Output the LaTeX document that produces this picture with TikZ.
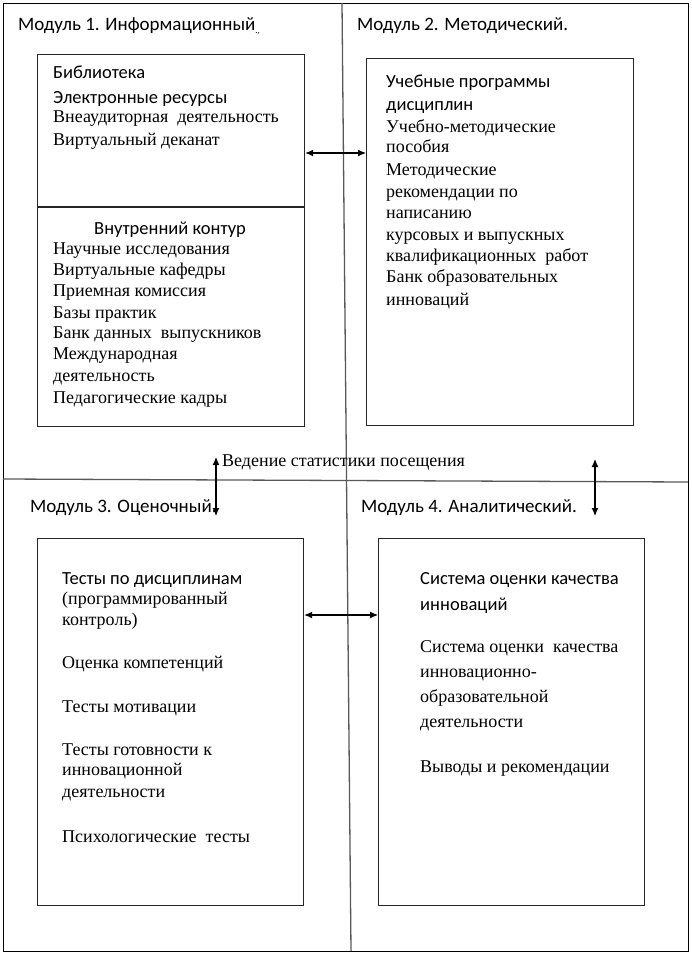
\documentclass[tikz,border=0pt]{standalone}
\usepackage{fontspec}
\setmainfont{Liberation Serif}
\newfontfamily\calib{Carlito}
\usetikzlibrary{arrows.meta}
\begin{document}
\begin{tikzpicture}[x=1pt,y=-1pt,
  frame/.style={draw=black, line width=1.3pt, inner sep=0pt, anchor=north west},
  divider/.style={draw=black!65, line width=1.3pt},
  box/.style={draw=black!85, line width=1.2pt, inner sep=0pt, anchor=north west},
  sr/.style={font=\fontsize{18}{20}\selectfont, anchor=base west, inner sep=0pt},
  sn/.style={font=\calib\fontsize{18.5}{20}\selectfont, anchor=base west, inner sep=0pt},
  hd/.style={font=\calib\fontsize{19}{20}\selectfont, anchor=base west, inner sep=0pt},
  dbl/.style={{Latex[length=8pt,width=7pt]}-{Latex[length=8pt,width=7pt]}, line width=1.1pt}]
\useasboundingbox (0,0) rectangle (691,955);
% frame and dividers
\node[frame, minimum width=685pt, minimum height=948pt] (frame) at (3,3) {};
\coordinate (vt) at (342,3);
\coordinate (vb) at (351,951);
\coordinate (hl) at (3,479);
\coordinate (hr) at (688,482);
\draw[divider] (vt) -- (vb);
\draw[divider] (hl) -- (hr);
% boxes
\node[box, minimum width=267pt, minimum height=372pt] (b1) at (37,54) {};
\node[box, minimum width=267pt, minimum height=367pt] (b2) at (366,58) {};
\node[box, minimum width=266pt, minimum height=367pt] (b3) at (37,538) {};
\node[box, minimum width=266pt, minimum height=367pt] (b4) at (378,538) {};
\coordinate (ysplit) at (0,207);
\draw[draw=black!85, line width=1.2pt] (b1.west |- ysplit) -- (b1.east |- ysplit);
% headers
\node[hd] (h1) at (18,31) {Модуль 1. Информационный\raisebox{-3pt}{\fontsize{9}{9}\selectfont .,}};
\node[hd] (h2) at (357,31) {Модуль 2. Методический.};
\node[hd] (h3) at (30,512) {Модуль 3. Оценочный.};
\node[hd] (h4) at (361,512) {Модуль 4. Аналитический.};
\node[sr] (stat) at (222,466) {Ведение статистики посещения};
% box 1
\node[sn] (t11) at (53,79) {Библиотека};
\node[sn] (t12) at (53,104) {Электронные ресурсы};
\node[sr] (t13) at (53,123) {Внеаудиторная~ деятельность};
\node[sr] (t14) at (53,145) {Виртуальный деканат};
\node[sn, anchor=base] (t15) at (170,234) {Внутренний контур};
\node[sr] (t16) at (53,254) {Научные исследования};
\node[sr] (t17) at (53,275) {Виртуальные кафедры};
\node[sr] (t18) at (53,296) {Приемная комиссия};
\node[sr] (t19) at (53,318) {Базы практик};
\node[sr] (t1a) at (53,338) {Банк данных~ выпускников};
\node[sr] (t1b) at (53,359) {Международная};
\node[sr] (t1c) at (53,381) {деятельность};
\node[sr] (t1d) at (53,403) {Педагогические кадры};
% box 2
\node[sn] (t21) at (386,88) {Учебные программы};
\node[sn] (t22) at (386,111) {дисциплин};
\node[sr] (t23) at (386,132) {Учебно-методические};
\node[sr] (t24) at (386,153) {пособия};
\node[sr] (t25) at (386,175) {Методические};
\node[sr] (t26) at (386,197) {рекомендации по};
\node[sr] (t27) at (386,218) {написанию};
\node[sr] (t28) at (386,240) {курсовых и выпускных};
\node[sr] (t29) at (386,261) {квалификационных~ работ};
\node[sr] (t2a) at (386,282) {Банк образовательных};
\node[sr] (t2b) at (386,305) {инноваций};
% box 3
\node[sn] (t31) at (62,584) {Тесты по дисциплинам};
\node[sr] (t32) at (62,604) {(программированный};
\node[sr] (t33) at (62,625) {контроль)};
\node[sr] (t34) at (62,668) {Оценка компетенций};
\node[sr] (t35) at (62,712) {Тесты мотивации};
\node[sr] (t36) at (62,755) {Тесты готовности к};
\node[sr] (t37) at (62,775) {инновационной};
\node[sr] (t38) at (62,797) {деятельности};
\node[sr] (t39) at (62,842) {Психологические~ тесты};
% box 4
\node[sn] (t41) at (420,584) {Система оценки качества};
\node[sn] (t42) at (420,610) {инноваций};
\node[sr] (t43) at (420,652) {Система оценки~ качества};
\node[sr] (t44) at (420,677) {инновационно-};
\node[sr] (t45) at (420,702) {образовательной};
\node[sr] (t46) at (420,727) {деятельности};
\node[sr] (t47) at (420,772) {Выводы и рекомендации};
% arrows
\coordinate (ya) at (0,153);
\coordinate (yb) at (0,615);
\draw[dbl] (b1.east |- ya) -- (b2.west |- ya);
\draw[dbl] (b3.east |- yb) -- (b4.west |- yb);
\coordinate (la1) at (216,457);
\coordinate (la2) at (216,516);
\coordinate (ra1) at (595,459);
\coordinate (ra2) at (595,516);
\draw[dbl] (la1) -- (la2);
\draw[dbl] (ra1) -- (ra2);
\end{tikzpicture}
\end{document}
